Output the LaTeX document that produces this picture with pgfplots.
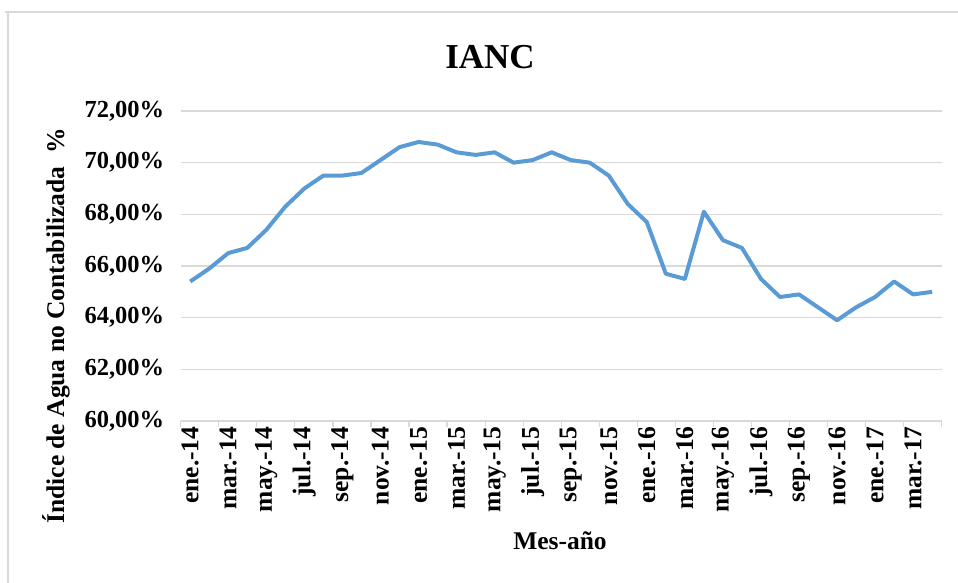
\documentclass[border=0pt]{standalone}
\usepackage{pgfplots}
\pgfplotsset{compat=1.18}
\usepackage{fontspec}
\setmainfont{Liberation Serif}
\definecolor{excelblue}{HTML}{5B9BD5}
\definecolor{gridgray}{HTML}{D9D9D9}
\begin{document}
\begin{tikzpicture}
\path[use as bounding box] (0,0) rectangle (958bp,583bp);
\draw[gridgray, line width=1.5bp] (5bp,571bp) -- (958bp,571bp);
\draw[gridgray, line width=1.5bp] (8bp,0bp) -- (8bp,571bp);
\begin{axis}[
  at={(180.7bp,162bp)}, anchor=south west,
  scale only axis, width=761bp, height=310bp,
  xmin=-0.5, xmax=39.5, ymin=60, ymax=72,
  axis x line*=bottom, axis y line*=left,
  y axis line style={draw=none},
  x axis line style={gridgray, line width=1.2bp},
  ytick={60,62,...,72},
  ytick style={draw=none},
  xtick={0,2,...,38},
  xticklabels={ene.-14,mar.-14,may.-14,jul.-14,sep.-14,nov.-14,ene.-15,mar.-15,may.-15,jul.-15,sep.-15,nov.-15,ene.-16,mar.-16,may.-16,jul.-16,sep.-16,nov.-16,ene.-17,mar.-17},
  minor xtick={-0.5,1.5,...,39.5},
  major tick length=0pt, minor tick length=6bp,
  tick align=outside,
  minor x tick style={gridgray, line width=1.2bp},
  ymajorgrids, grid style={gridgray, line width=1.2bp},
  /pgf/number format/assume math mode=true,
  yticklabel={\pgfmathprintnumber[fixed,fixed zerofill,precision=2,use comma]{\tick}\%},
  yticklabel style={font=\bfseries\fontsize{24.5bp}{28bp}\selectfont},
  xticklabel style={rotate=90, anchor=east, font=\bfseries\fontsize{25.5bp}{30bp}\selectfont},
  xticklabel shift=2bp,
  yticklabel shift=13bp,
]
\addplot[color=excelblue, line width=4bp, line join=round, mark=none] coordinates {
(0,65.4) (1,65.9) (2,66.5) (3,66.7) (4,67.4) (5,68.3) (6,69.0) (7,69.5) (8,69.5) (9,69.6)
(10,70.1) (11,70.6) (12,70.8) (13,70.7) (14,70.4) (15,70.3) (16,70.4) (17,70.0) (18,70.1) (19,70.4)
(20,70.1) (21,70.0) (22,69.5) (23,68.4) (24,67.7) (25,65.7) (26,65.5) (27,68.1) (28,67.0) (29,66.7)
(30,65.5) (31,64.8) (32,64.9) (33,64.4) (34,63.9) (35,64.4) (36,64.8) (37,65.4) (38,64.9) (39,65.0)
};
\end{axis}
\node[font=\bfseries\fontsize{35bp}{40bp}\selectfont] at (490bp,526bp) {IANC};
\node[font=\bfseries\fontsize{25.5bp}{30bp}\selectfont] at (560bp,42bp) {Mes-año};
\node[font=\bfseries\fontsize{25.5bp}{30bp}\selectfont, rotate=90] at (56bp,257bp) {Índice de Agua no Contabilizada \ \%};
\end{tikzpicture}
\end{document}
